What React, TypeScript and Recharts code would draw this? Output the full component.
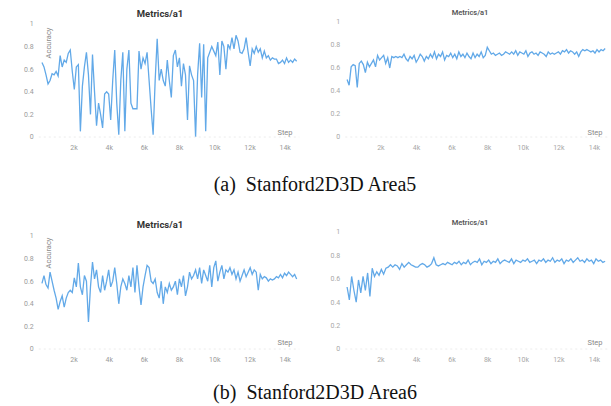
import React from 'react';
import { LineChart, Line, XAxis, YAxis } from 'recharts';

// Stanford2D3D Area5 – left panel (Metrics/a1, Accuracy)
const area5LeftValues = [
  0.66, 0.62, 0.55, 0.47, 0.50, 0.56, 0.55, 0.58, 0.54, 0.72,
  0.62, 0.68, 0.66, 0.74, 0.77, 0.58, 0.42, 0.62, 0.64, 0.05,
  0.45, 0.62, 0.75, 0.55, 0.20, 0.73, 0.40, 0.10, 0.30, 0.20,
  0.08, 0.38, 0.40, 0.38, 0.15, 0.50, 0.77, 0.30, 0.02, 0.50,
  0.75, 0.05, 0.60, 0.77, 0.30, 0.25, 0.25, 0.25, 0.76, 0.60,
  0.70, 0.65, 0.75, 0.50, 0.25, 0.02, 0.50, 0.87, 0.50, 0.60,
  0.50, 0.45, 0.68, 0.50, 0.35, 0.72, 0.77, 0.62, 0.70, 0.45,
  0.65, 0.55, 0.15, 0.63, 0.55, 0.50, 0.00, 0.55, 0.83, 0.35,
  0.82, 0.05, 0.70, 0.75, 0.80, 0.76, 0.72, 0.84, 0.55, 0.85,
  0.80, 0.60, 0.82, 0.78, 0.88, 0.78, 0.90, 0.85, 0.75, 0.74,
  0.78, 0.88, 0.75, 0.63, 0.78, 0.74, 0.80, 0.75, 0.78, 0.70,
  0.76, 0.70, 0.72, 0.68, 0.70, 0.69, 0.69, 0.65, 0.66, 0.68,
  0.65, 0.70, 0.66, 0.68, 0.66, 0.69, 0.67,
];

// Stanford2D3D Area5 – right panel
const area5RightValues = [
  0.50, 0.45, 0.61, 0.63, 0.62, 0.43, 0.64, 0.66, 0.63, 0.56,
  0.65, 0.61, 0.64, 0.67, 0.61, 0.71, 0.67, 0.69, 0.71, 0.64,
  0.69, 0.60, 0.70, 0.69, 0.70, 0.69, 0.70, 0.69, 0.72, 0.68,
  0.66, 0.70, 0.68, 0.71, 0.65, 0.68, 0.72, 0.70, 0.66, 0.70,
  0.68, 0.72, 0.69, 0.74, 0.68, 0.72, 0.70, 0.74, 0.67, 0.71,
  0.70, 0.73, 0.69, 0.72, 0.68, 0.74, 0.70, 0.72, 0.69, 0.73,
  0.70, 0.68, 0.73, 0.69, 0.72, 0.70, 0.74, 0.69, 0.71, 0.78,
  0.75, 0.72, 0.73, 0.71, 0.72, 0.73, 0.71, 0.72, 0.74, 0.73,
  0.72, 0.74, 0.72, 0.75, 0.71, 0.74, 0.73, 0.72, 0.75, 0.70,
  0.73, 0.74, 0.72, 0.73, 0.71, 0.74, 0.73, 0.72, 0.70, 0.74,
  0.72, 0.73, 0.72, 0.73, 0.74, 0.72, 0.75, 0.74, 0.76, 0.73,
  0.75, 0.74, 0.72, 0.74, 0.70, 0.74, 0.76, 0.75, 0.76, 0.75,
  0.74, 0.75, 0.73, 0.76, 0.74, 0.76, 0.75, 0.77,
];

// Stanford2D3D Area6 – left panel (Metrics/a1, Accuracy)
const area6LeftValues = [
  0.58, 0.65, 0.57, 0.54, 0.68, 0.60, 0.52, 0.45, 0.35, 0.42,
  0.47, 0.37, 0.45, 0.50, 0.52, 0.50, 0.63, 0.55, 0.76, 0.55,
  0.48, 0.65, 0.60, 0.24, 0.55, 0.77, 0.62, 0.70, 0.55, 0.50,
  0.65, 0.52, 0.60, 0.70, 0.55, 0.60, 0.72, 0.58, 0.40, 0.55,
  0.62, 0.58, 0.52, 0.65, 0.55, 0.72, 0.50, 0.74, 0.55, 0.39,
  0.55, 0.65, 0.74, 0.72, 0.60, 0.58, 0.62, 0.50, 0.45, 0.60,
  0.40, 0.55, 0.50, 0.58, 0.52, 0.55, 0.60, 0.48, 0.62, 0.55,
  0.65, 0.47, 0.55, 0.68, 0.62, 0.65, 0.70, 0.62, 0.72, 0.58,
  0.70, 0.65, 0.60, 0.74, 0.55, 0.72, 0.78, 0.60, 0.68, 0.74,
  0.62, 0.70, 0.68, 0.72, 0.66, 0.70, 0.62, 0.68, 0.60, 0.65,
  0.70, 0.64, 0.68, 0.72, 0.66, 0.70, 0.68, 0.52, 0.66, 0.62,
  0.64, 0.63, 0.60, 0.62, 0.61, 0.62, 0.64, 0.63, 0.66, 0.63,
  0.67, 0.65, 0.68, 0.66, 0.64, 0.66, 0.62,
];

// Stanford2D3D Area6 – right panel
const area6RightValues = [
  0.53, 0.42, 0.62, 0.50, 0.40, 0.59, 0.48, 0.62, 0.50, 0.65,
  0.45, 0.69, 0.62, 0.66, 0.63, 0.68, 0.64, 0.69, 0.70, 0.72,
  0.70, 0.72, 0.71, 0.68, 0.73, 0.70, 0.72, 0.74, 0.72, 0.71,
  0.70, 0.70, 0.72, 0.73, 0.72, 0.70, 0.71, 0.73, 0.78, 0.72,
  0.71, 0.72, 0.73, 0.72, 0.74, 0.73, 0.72, 0.74, 0.73, 0.75,
  0.72, 0.74, 0.73, 0.76, 0.72, 0.74, 0.75, 0.74, 0.77, 0.72,
  0.75, 0.74, 0.76, 0.73, 0.75, 0.74, 0.77, 0.73, 0.75, 0.76,
  0.75, 0.74, 0.77, 0.73, 0.76, 0.75, 0.74, 0.76, 0.75, 0.77,
  0.74, 0.75, 0.76, 0.73, 0.76, 0.75, 0.77, 0.74, 0.76, 0.75,
  0.78, 0.74, 0.76, 0.75, 0.77, 0.73, 0.76, 0.75, 0.77, 0.74,
  0.76, 0.78, 0.75, 0.76, 0.74, 0.77, 0.75, 0.76, 0.73, 0.77,
  0.75, 0.76, 0.74, 0.75,
];

// logged step range (in thousands of steps) for each run
const area5LeftSteps = [0.18, 14.65];
const area5RightSteps = [0.1, 14.6];
const area6LeftSteps = [0.18, 14.65];
const area6RightSteps = [0.1, 14.6];

const xTickValues = [2, 4, 6, 8, 10, 12, 14];
const xTickLabels = ['2k', '4k', '6k', '8k', '10k', '12k', '14k'];
const yTickValues = [0, 0.2, 0.4, 0.6, 0.8, 1];
const yTickLabels = ['0', '0.2', '0.4', '0.6', '0.8', '1'];

const chartTitle = 'Metrics/a1';
const yAxisName = 'Accuracy';
const xAxisName = 'Step';
const captionA = '(a)\u2002Stanford2D3D Area5';
const captionB = '(b)\u2002Stanford2D3D Area6';

function toRows(values: number[], range: number[]) {
  const n = values.length;
  return values.map((v, i) => ({
    step: range[0] + ((range[1] - range[0]) * i) / (n - 1),
    value: v,
  }));
}

type PanelProps = {
  x: number;
  y: number;
  w: number;
  h: number;
  plot: { left: number; right: number; top: number; bottom: number };
  rows: { step: number; value: number }[];
  tickColor: string;
};

function Panel({ x, y, w, h, plot, rows, tickColor }: PanelProps) {
  const yAxisW = 30;
  const xAxisH = 20;
  const margin = {
    top: plot.top,
    left: plot.left - yAxisW,
    right: w - plot.right,
    bottom: h - plot.bottom - xAxisH,
  };
  const tickStyle = { fill: tickColor, fontSize: 7, fontFamily: 'Roboto, sans-serif' };
  return (
    <div style={{ position: 'absolute', left: x, top: y }}>
      <LineChart width={w} height={h} data={rows} margin={margin}>
        <XAxis
          dataKey="step"
          type="number"
          domain={[0, 14.8]}
          ticks={xTickValues}
          tickFormatter={(v: number) => xTickLabels[xTickValues.indexOf(v)]}
          interval={0}
          height={xAxisH}
          tickSize={0}
          tickMargin={8}
          axisLine={{ stroke: '#ececec', strokeDasharray: '2 3' }}
          tick={tickStyle}
        />
        <YAxis
          type="number"
          domain={[0, 1]}
          ticks={yTickValues}
          tickFormatter={(v: number) => yTickLabels[yTickValues.indexOf(v)]}
          interval={0}
          width={yAxisW}
          tickSize={0}
          tickMargin={5}
          axisLine={false}
          tick={tickStyle}
        />
        <Line
          dataKey="value"
          type="linear"
          stroke="#62a9e8"
          strokeWidth={1.3}
          dot={false}
          activeDot={false}
          isAnimationActive={false}
        />
      </LineChart>
    </div>
  );
}

function Txt({
  x,
  y,
  children,
  style,
}: {
  x: number;
  y: number;
  children: React.ReactNode;
  style?: React.CSSProperties;
}) {
  return (
    <div
      style={{
        position: 'absolute',
        left: x,
        top: y,
        transform: 'translate(-50%, -50%)',
        whiteSpace: 'nowrap',
        lineHeight: 1,
        ...style,
      }}
    >
      {children}
    </div>
  );
}

export default function App() {
  const leftTitle: React.CSSProperties = {
    fontFamily: 'Roboto, sans-serif',
    fontWeight: 700,
    fontSize: 9.5,
    color: '#333',
  };
  const rightTitle: React.CSSProperties = {
    fontFamily: 'Roboto, sans-serif',
    fontWeight: 600,
    fontSize: 7.5,
    color: '#555',
  };
  const axisName: React.CSSProperties = {
    fontFamily: 'Roboto, sans-serif',
    fontSize: 7.5,
    color: '#8a8a8a',
  };
  const caption: React.CSSProperties = {
    fontFamily: '"Liberation Serif", "Times New Roman", serif',
    fontSize: 20,
    color: '#111',
  };
  return (
    <div
      style={{
        position: 'absolute',
        left: 0,
        top: 0,
        width: 611,
        height: 406,
        background: '#fff',
        overflow: 'hidden',
      }}
    >
      <Panel
        x={0}
        y={0}
        w={305}
        h={165}
        plot={{ left: 38.8, right: 299.3, top: 24, bottom: 137 }}
        rows={toRows(area5LeftValues, area5LeftSteps)}
        tickColor="#9a9a9a"
      />
      <Panel
        x={305}
        y={0}
        w={306}
        h={165}
        plot={{ left: 40.3, right: 303.7, top: 22, bottom: 137 }}
        rows={toRows(area5RightValues, area5RightSteps)}
        tickColor="#a8a8a8"
      />
      <Panel
        x={0}
        y={195}
        w={305}
        h={170}
        plot={{ left: 38.8, right: 299.3, top: 41, bottom: 154 }}
        rows={toRows(area6LeftValues, area6LeftSteps)}
        tickColor="#9a9a9a"
      />
      <Panel
        x={305}
        y={195}
        w={306}
        h={170}
        plot={{ left: 40.3, right: 303.7, top: 37, bottom: 154 }}
        rows={toRows(area6RightValues, area6RightSteps)}
        tickColor="#a8a8a8"
      />

      <Txt x={160} y={14} style={leftTitle}>{chartTitle}</Txt>
      <Txt x={470} y={12.5} style={rightTitle}>{chartTitle}</Txt>
      <Txt x={160} y={225} style={leftTitle}>{chartTitle}</Txt>
      <Txt x={470} y={223} style={rightTitle}>{chartTitle}</Txt>

      <Txt x={48.5} y={43} style={{ ...axisName, transform: 'translate(-50%, -50%) rotate(-90deg)' }}>
        {yAxisName}
      </Txt>
      <Txt x={48.5} y={253} style={{ ...axisName, transform: 'translate(-50%, -50%) rotate(-90deg)' }}>
        {yAxisName}
      </Txt>

      <Txt x={285} y={133} style={axisName}>{xAxisName}</Txt>
      <Txt x={595} y={133} style={axisName}>{xAxisName}</Txt>
      <Txt x={285} y={343} style={axisName}>{xAxisName}</Txt>
      <Txt x={595} y={343} style={axisName}>{xAxisName}</Txt>

      <Txt x={315} y={184} style={caption}>{captionA}</Txt>
      <Txt x={315} y={392} style={caption}>{captionB}</Txt>
    </div>
  );
}
